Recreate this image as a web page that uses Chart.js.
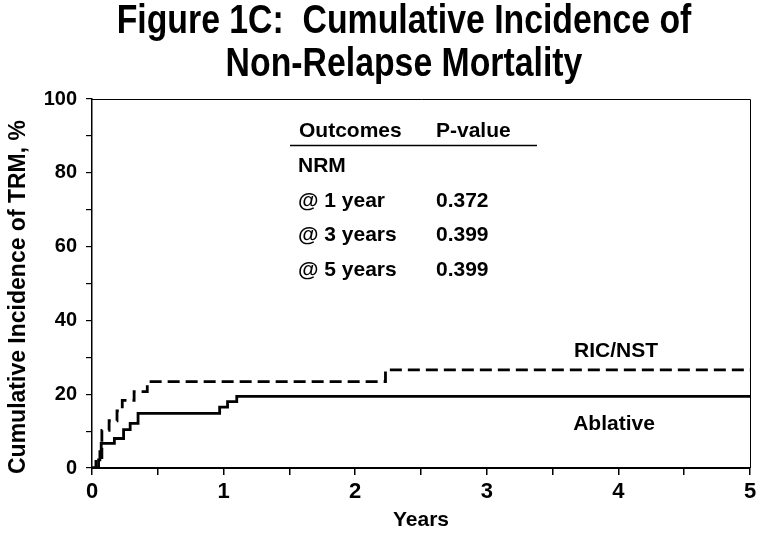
<!DOCTYPE html>
<html>
<head>
<meta charset="utf-8">
<script src="https://cdn.jsdelivr.net/npm/chart.js@4.4.1/dist/chart.umd.min.js"></script>
<style>
  html, body { margin: 0; padding: 0; background: #fff; }
  #wrap { width: 762px; height: 534px; }
</style>
</head>
<body>
<div id="wrap"><canvas id="myChart" width="762" height="534"></canvas></div>
<script>
// Cumulative incidence step curves (years, %)
var ablativeYears = [0, 0.05, 0.06, 0.07, 0.17, 0.24, 0.29, 0.35, 0.97, 1.03, 1.10, 5.0];
var ablativeNrm   = [0, 2.2, 4.4, 6.7, 8.0, 10.4, 12.1, 14.8, 16.5, 18.0, 19.4, 19.4];
var ricYears = [0, 0.03, 0.075, 0.13, 0.19, 0.23, 0.32, 0.42, 2.23, 5.0];
var ricNrm   = [0, 2.8, 10.2, 12.8, 15.5, 18.3, 20.7, 23.4, 26.6, 26.6];

var xTicks = [0, 1, 2, 3, 4, 5];
var yTicks = [0, 20, 40, 60, 80, 100];

// Inset table
var tableHeader = ['Outcomes', 'P-value'];
var tableRows = [
    ['NRM', ''],
    ['@ 1 year', '0.372'],
    ['@ 3 years', '0.399'],
    ['@ 5 years', '0.399']
];

var titleLines = ['Figure 1C:  Cumulative Incidence of', 'Non-Relapse Mortality'];
var yTitle = 'Cumulative Incidence of TRM, %';
var xTitle = 'Years';

function toPoints(xs, ys) {
    return xs.map(function(x, i) { return { x: x, y: ys[i] }; });
}

var boldFont = "'Liberation Sans', Arial, Helvetica, sans-serif";

// Draws title (condensed), frame, inset table, curve labels and the y axis title
var extras = {
    id: 'extras',
    afterDraw: function(chart) {
        var ctx = chart.ctx;
        var a = chart.chartArea;
        ctx.save();
        ctx.fillStyle = '#000';
        ctx.strokeStyle = '#000';

        // title, squeezed horizontally like the original
        ctx.save();
        ctx.scale(0.845, 1);
        ctx.font = 'bold 40px ' + boldFont;
        ctx.textAlign = 'center';
        ctx.textBaseline = 'alphabetic';
        ctx.fillText(titleLines[0], 404 / 0.845, 33);
        ctx.fillText(titleLines[1], 404 / 0.845, 76);
        ctx.restore();

        ctx.lineWidth = 1;
        ctx.beginPath();
        ctx.moveTo(a.left, a.top + 0.5);
        ctx.lineTo(a.right + 0.5, a.top + 0.5);
        ctx.lineTo(a.right + 0.5, a.bottom);
        ctx.stroke();

        ctx.font = 'bold 21px ' + boldFont;
        ctx.textBaseline = 'alphabetic';
        ctx.textAlign = 'left';
        ctx.fillText(tableHeader[0], 299, 137);
        ctx.fillText(tableHeader[1], 436, 137);
        ctx.lineWidth = 1.5;
        ctx.beginPath();
        ctx.moveTo(290, 145.5);
        ctx.lineTo(537, 145.5);
        ctx.stroke();
        tableRows.forEach(function(r, i) {
            var y = 172 + i * 34.5;
            ctx.fillText(r[0], 298, y);
            if (r[1]) ctx.fillText(r[1], 436, y);
        });

        ctx.textAlign = 'center';
        ctx.textBaseline = 'middle';
        ctx.fillText('RIC/NST', 616, 351);
        ctx.fillText('Ablative', 614, 424);

        ctx.translate(19, 297);
        ctx.rotate(-Math.PI / 2);
        ctx.font = 'bold 23px ' + boldFont;
        ctx.fillText(yTitle, 0, 0);
        ctx.restore();
    }
};

var ctx = document.getElementById('myChart').getContext('2d');
var myChart = new Chart(ctx, {
    type: 'scatter',
    data: {
        datasets: [{
            label: 'Ablative',
            data: toPoints(ablativeYears, ablativeNrm),
            showLine: true,
            stepped: true,
            borderColor: '#000',
            borderWidth: 2.8,
            pointRadius: 0
        }, {
            label: 'RIC/NST',
            data: toPoints(ricYears, ricNrm),
            showLine: true,
            stepped: true,
            borderColor: '#000',
            borderWidth: 2.8,
            borderDash: [12, 6],
            pointRadius: 0
        }]
    },
    options: {
        responsive: false,
        animation: false,
        layout: { padding: { left: 30, right: 12, top: 99, bottom: 0 } },
        plugins: {
            legend: { display: false },
            tooltip: { enabled: false },
            title: { display: false }
        },
        scales: {
            x: {
                type: 'linear',
                min: 0,
                max: 5,
                afterFit: function(s) { s.height = 66; },
                ticks: {
                    stepSize: 0.5,
                    autoSkip: false,
                    maxRotation: 0,
                    color: '#000',
                    padding: 4,
                    font: { family: boldFont, size: 22, weight: 'bold' },
                    callback: function(v) { return xTicks.indexOf(v) >= 0 ? v : ''; }
                },
                grid: { drawOnChartArea: false, drawTicks: true, tickLength: 7, color: '#000', lineWidth: 1.5 },
                border: { display: true, color: '#000', width: 2 },
                title: {
                    display: true,
                    text: xTitle,
                    color: '#000',
                    font: { family: boldFont, size: 21, weight: 'bold' },
                    padding: { top: 0, bottom: 1 }
                }
            },
            y: {
                min: 0,
                max: 100,
                afterFit: function(s) { s.width = 62; },
                ticks: {
                    stepSize: 10,
                    autoSkip: false,
                    color: '#000',
                    padding: 9,
                    font: { family: boldFont, size: 20, weight: 'bold' },
                    callback: function(v) { return yTicks.indexOf(v) >= 0 ? v : ''; }
                },
                grid: { drawOnChartArea: false, drawTicks: true, tickLength: 6, color: '#000', lineWidth: 1.2 },
                border: { display: true, color: '#000', width: 1.5 }
            }
        }
    },
    plugins: [extras]
});
</script>
</body>
</html>
